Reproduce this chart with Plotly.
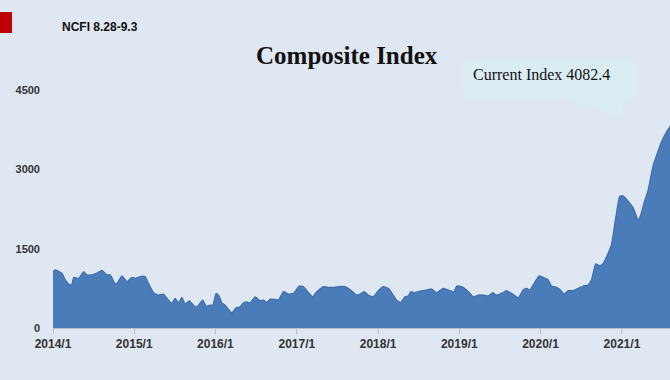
import plotly.graph_objects as go

dates = [
    "2014-01-01", "2014-01-11", "2014-02-10", "2014-02-25", "2014-03-17", "2014-03-27",
    "2014-04-04", "2014-04-26", "2014-05-19", "2014-06-02", "2014-06-25", "2014-07-17",
    "2014-08-09", "2014-08-31", "2014-09-15", "2014-10-08", "2014-10-18", "2014-11-07",
    "2014-11-29", "2014-12-22", "2015-01-06", "2015-01-28", "2015-02-19", "2015-03-06",
    "2015-03-29", "2015-04-20", "2015-05-13", "2015-05-28", "2015-06-19", "2015-07-04",
    "2015-07-19", "2015-08-03", "2015-08-18", "2015-09-06", "2015-10-02", "2015-10-17",
    "2015-11-05", "2015-11-20", "2015-12-08", "2015-12-20", "2016-01-04", "2016-01-15",
    "2016-01-30", "2016-02-14", "2016-03-15", "2016-04-03", "2016-04-21", "2016-05-06",
    "2016-05-21", "2016-06-05", "2016-06-27", "2016-07-20", "2016-08-04", "2016-08-19",
    "2016-09-03", "2016-09-25", "2016-10-10", "2016-11-02", "2016-11-24", "2016-12-16",
    "2017-01-12", "2017-01-30", "2017-02-22", "2017-03-13", "2017-03-31", "2017-04-30",
    "2017-05-23", "2017-06-14", "2017-07-06", "2017-08-05", "2017-08-28", "2017-09-27",
    "2017-10-12", "2017-10-30", "2017-11-18", "2017-12-11", "2018-01-02", "2018-01-24",
    "2018-02-16", "2018-03-10", "2018-03-25", "2018-04-12", "2018-05-02", "2018-05-17",
    "2018-05-27", "2018-06-16", "2018-07-08", "2018-08-07", "2018-08-30", "2018-09-21",
    "2018-10-21", "2018-11-20", "2018-12-08", "2018-12-20", "2019-01-11", "2019-02-03",
    "2019-03-05", "2019-03-27", "2019-04-19", "2019-05-11", "2019-05-31", "2019-06-17",
    "2019-07-10", "2019-08-01", "2019-08-24", "2019-09-23", "2019-10-15", "2019-10-30",
    "2019-11-14", "2019-11-29", "2019-12-26", "2020-01-21", "2020-02-05", "2020-02-19",
    "2020-03-13", "2020-03-28", "2020-04-16", "2020-05-04", "2020-05-27", "2020-06-18",
    "2020-07-11", "2020-08-02", "2020-08-17", "2020-09-05", "2020-09-23", "2020-10-08",
    "2020-10-26", "2020-11-15", "2020-12-04", "2020-12-22", "2021-01-06", "2021-01-28",
    "2021-02-20", "2021-03-04", "2021-03-14", "2021-03-25", "2021-04-13", "2021-04-28",
    "2021-05-21", "2021-06-05", "2021-06-27", "2021-07-20", "2021-08-04", "2021-08-20",
    "2021-09-03",
]

index_values = [
    1068, 1100, 1037, 910, 814, 833,
    960, 941, 1068, 1005, 1005, 1037,
    1088, 1005, 1005, 833, 859, 986,
    878, 960, 941, 973, 973, 846,
    668, 623, 642, 560, 464, 560,
    477, 579, 452, 515, 401, 432,
    528, 413, 432, 432, 655, 623,
    477, 432, 286, 382, 401, 477,
    496, 477, 591, 515, 528, 483,
    547, 541, 528, 687, 642, 655,
    795, 782, 668, 591, 687, 782,
    769, 769, 782, 782, 730, 623,
    642, 687, 623, 591, 706, 782,
    750, 623, 528, 483, 591, 604,
    687, 668, 700, 719, 738, 668,
    750, 706, 687, 795, 782, 719,
    591, 623, 623, 604, 668, 623,
    655, 706, 655, 572, 719, 750,
    719, 814, 986, 941, 910, 795,
    769, 731, 642, 706, 706, 750,
    795, 814, 910, 1215, 1177, 1215,
    1367, 1577, 2086, 2487, 2499, 2404,
    2277, 2150, 2042, 2118, 2404, 2595,
    3069, 3259, 3514, 3705, 3801, 3950,
    4082.4,
]

tick_dates = ["2014-01-01", "2015-01-01", "2016-01-01", "2017-01-01",
              "2018-01-01", "2019-01-01", "2020-01-01", "2021-01-01"]
tick_labels = ["2014/1", "2015/1", "2016/1", "2017/1",
               "2018/1", "2019/1", "2020/1", "2021/1"]
y_ticks = [0, 1500, 3000, 4500]

title_text = "Composite Index"
subtitle_text = "NCFI 8.28-9.3"
callout_text = "Current Index 4082.4"

BG = "#dee7f2"
FILL = "#4a7cba"

W, H = 670, 380
L, R, T, B = 53, 0, 90, 52
PW, PH = W - L - R, H - T - B


def px(X):
    return (X - L) / PW


def py(Y):
    return (H - B - Y) / PH


fig = go.Figure()
fig.add_trace(go.Scatter(
    x=dates, y=index_values, mode="lines", fill="tozeroy",
    line=dict(color="#3f6eab", width=1.2, shape="spline", smoothing=0.4),
    fillcolor=FILL, hoverinfo="x+y", showlegend=False,
))

# callout bubble (rounded rectangle with tail)
x1, x2, y1, y2, r = 463, 636, 59, 99, 7
tail_a, tail_tip_x, tail_tip_y, tail_b = 567, 623, 119, 623


def P(X, Y):
    return f"{px(X):.5f},{py(Y):.5f}"


path = (
    f"M {P(x1 + r, y1)} L {P(x2 - r, y1)} Q {P(x2, y1)} {P(x2, y1 + r)} "
    f"L {P(x2, y2 - r)} Q {P(x2, y2)} {P(x2 - r, y2)} "
    f"L {P(tail_b, y2)} L {P(tail_tip_x, tail_tip_y)} L {P(tail_a, y2)} "
    f"L {P(x1 + r, y2)} Q {P(x1, y2)} {P(x1, y2 - r)} "
    f"L {P(x1, y1 + r)} Q {P(x1, y1)} {P(x1 + r, y1)} Z"
)

fig.update_layout(
    width=W, height=H,
    margin=dict(l=L, r=R, t=T, b=B),
    paper_bgcolor=BG, plot_bgcolor=BG,
    xaxis=dict(
        type="date", range=["2014-01-01", "2021-08-05"],
        tickvals=tick_dates, ticktext=tick_labels,
        showgrid=False, showline=True, linecolor="#b8bec6", linewidth=1,
        ticks="outside", ticklen=5, tickcolor="#b8bec6",
        tickfont=dict(family="Liberation Sans, Arial", size=12, color="#333333", weight="bold"),
        zeroline=False, fixedrange=True,
    ),
    yaxis=dict(
        range=[0, 4500], tickvals=y_ticks,
        showgrid=True, gridcolor="#e6e9ee", gridwidth=1, griddash="dot",
        showline=False, zeroline=False,
        tickfont=dict(family="Liberation Sans, Arial", size=11, color="#333333", weight="bold"),
        ticklabelstandoff=12,
    ),
    shapes=[
        dict(type="rect", xref="paper", yref="paper",
             x0=px(0), x1=px(12), y0=py(33), y1=py(12),
             fillcolor="#c00000", line=dict(width=0), layer="above"),
        dict(type="path", xref="paper", yref="paper", path=path,
             fillcolor="#dbedf3", line=dict(width=0), layer="above"),
    ],
    annotations=[
        dict(text=title_text, xref="paper", yref="paper", x=px(347), y=py(55),
             xanchor="center", yanchor="middle", showarrow=False,
             font=dict(family="Liberation Serif, Times New Roman", size=25, color="#111111", weight="bold")),
        dict(text=subtitle_text, xref="paper", yref="paper", x=px(60), y=py(27),
             xanchor="left", yanchor="middle", showarrow=False,
             font=dict(family="Liberation Sans, Arial", size=12, color="#111111", weight="bold")),
        dict(text=callout_text, xref="paper", yref="paper", x=px(471), y=py(74),
             xanchor="left", yanchor="middle", showarrow=False,
             font=dict(family="Liberation Serif, Times New Roman", size=16, color="#111111")),
    ],
)

fig.write_html(
    "out.html",
    config={"displayModeBar": False},
    post_script="document.body.style.margin='0';document.body.style.overflow='hidden';",
)
